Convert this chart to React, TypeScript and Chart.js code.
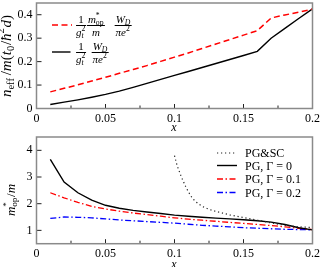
import React, { useEffect, useRef } from 'react';
import { Chart, registerables } from 'chart.js';

Chart.register(...registerables);

// ---------- data ----------
const xValues = [0.01, 0.02, 0.03, 0.04, 0.05, 0.06, 0.07, 0.08, 0.09, 0.1, 0.11, 0.12, 0.13, 0.14, 0.15, 0.16, 0.17, 0.18, 0.19, 0.2];
// top panel: n_eff / m (t0/hbar^2 d)
const nWithMass = [0.071, 0.086, 0.101, 0.117, 0.133, 0.150, 0.166, 0.183, 0.201, 0.219, 0.237, 0.256, 0.275, 0.294, 0.313, 0.332, 0.386, 0.399, 0.411, 0.424];
const nWithoutMass = [0.017, 0.027, 0.037, 0.048, 0.060, 0.074, 0.090, 0.107, 0.124, 0.141, 0.158, 0.175, 0.192, 0.209, 0.226, 0.244, 0.300, 0.342, 0.384, 0.425];
// bottom panel: m*_op / m
const pgGamma0 = [3.66, 2.81, 2.41, 2.13, 1.94, 1.83, 1.75, 1.69, 1.63, 1.57, 1.53, 1.49, 1.46, 1.43, 1.40, 1.36, 1.31, 1.22, 1.10, 1.02];
const pgGamma01 = [2.41, 2.22, 2.05, 1.90, 1.80, 1.72, 1.65, 1.59, 1.53, 1.47, 1.42, 1.38, 1.34, 1.30, 1.26, 1.22, 1.18, 1.13, 1.08, 1.03];
const pgGamma02 = [1.45, 1.50, 1.49, 1.47, 1.43, 1.39, 1.36, 1.33, 1.30, 1.27, 1.23, 1.19, 1.16, 1.13, 1.10, 1.08, 1.06, 1.04, 1.03, 1.02];
const pgscX = [0.1, 0.102, 0.105, 0.108, 0.11, 0.113, 0.116, 0.12, 0.125, 0.13, 0.14, 0.15, 0.16, 0.17, 0.18, 0.19, 0.2];
const pgscY = [3.80, 3.41, 3.00, 2.65, 2.45, 2.20, 2.05, 1.90, 1.79, 1.71, 1.58, 1.48, 1.38, 1.28, 1.19, 1.13, 1.11];

// ---------- ticks ----------
const xTicks = [0, 0.05, 0.1, 0.15, 0.2];
const xMinorTicks = [0.025, 0.075, 0.125, 0.175];
const nTicks = [0, 0.1, 0.2, 0.3, 0.4];
const mTicks = [1, 2, 3, 4];
const legendLabels = ['PG&SC', 'PG, Γ = 0', 'PG, Γ = 0.1', 'PG, Γ = 0.2'];

const FONT = '"Liberation Serif", "Times New Roman", serif';
const RED = '#ff0000';
const BLUE = '#0000ff';
const DASH = [6, 3.5];
const DASHDOT = [6, 2.5, 1.5, 2.5];
const DOT = [1.2, 2.8];

const fmt = (v: number) => String(parseFloat(Number(v).toFixed(3)));

type Sample = { dx1: number; dx2: number; y: number; color: string; dash: number[]; width: number };

function framePlugin(yTicks: number[], samples: Sample[]) {
  return {
    id: 'frame',
    afterDraw(chart: any) {
      const { ctx, chartArea: a, scales } = chart;
      const xs = scales.x;
      const ys = scales.y;
      ctx.save();
      ctx.strokeStyle = '#222';
      ctx.lineWidth = 1;
      ctx.setLineDash([]);
      xTicks.forEach((v) => {
        const p = xs.getPixelForValue(v);
        ctx.beginPath();
        ctx.moveTo(p, a.bottom);
        ctx.lineTo(p, a.bottom - 4.5);
        ctx.stroke();
      });
      xMinorTicks.forEach((v) => {
        const p = xs.getPixelForValue(v);
        ctx.beginPath();
        ctx.moveTo(p, a.bottom);
        ctx.lineTo(p, a.bottom - 3);
        ctx.stroke();
      });
      yTicks.forEach((v) => {
        const p = ys.getPixelForValue(v);
        ctx.beginPath();
        ctx.moveTo(a.left, p);
        ctx.lineTo(a.left + 5, p);
        ctx.stroke();
      });
      ctx.strokeStyle = '#8a8a8a';
      ctx.lineWidth = 1.5;
      ctx.strokeRect(a.left, a.top, a.width, a.height);
      samples.forEach((s) => {
        ctx.strokeStyle = s.color;
        ctx.lineWidth = s.width;
        ctx.setLineDash(s.dash);
        ctx.beginPath();
        ctx.moveTo(a.left + s.dx1, a.top + s.y);
        ctx.lineTo(a.left + s.dx2, a.top + s.y);
        ctx.stroke();
      });
      ctx.restore();
    },
  };
}

function series(xs: number[], ys: number[], color: string, dash: number[], width: number) {
  return {
    data: xs.map((x, i) => ({ x, y: ys[i] })),
    borderColor: color,
    borderWidth: width,
    borderDash: dash,
    pointRadius: 0,
    fill: false,
    tension: 0,
  };
}

function makeConfig(datasets: any[], yMin: number, yMax: number, yTicks: number[], xAxisH: number, samples: Sample[]) {
  const tickFont = { family: FONT, size: 12 };
  return {
    type: 'line',
    data: { datasets },
    options: {
      animation: false,
      responsive: false,
      events: [],
      layout: { padding: { top: 3, right: 7.5, left: 0, bottom: 0 } },
      plugins: { legend: { display: false }, tooltip: { enabled: false } },
      scales: {
        x: {
          type: 'linear',
          min: 0,
          max: 0.2,
          grid: { display: false, drawTicks: false },
          border: { display: false },
          ticks: { padding: 3, maxRotation: 0, autoSkip: false, font: tickFont, color: '#000', callback: (v: number) => fmt(v) },
          afterBuildTicks: (s: any) => {
            s.ticks = xTicks.map((v) => ({ value: v }));
          },
          afterFit: (s: any) => {
            s.height = xAxisH;
            s.paddingLeft = 0;
            s.paddingRight = 0;
          },
        },
        y: {
          type: 'linear',
          min: yMin,
          max: yMax,
          grid: { display: false, drawTicks: false },
          border: { display: false },
          ticks: { padding: 4, autoSkip: false, font: tickFont, color: '#000', callback: (v: number) => fmt(v) },
          afterBuildTicks: (s: any) => {
            s.ticks = yTicks.map((v) => ({ value: v }));
          },
          afterFit: (s: any) => {
            s.width = 36.5;
            s.paddingTop = 0;
            s.paddingBottom = 0;
          },
        },
      },
    },
    plugins: [framePlugin(yTicks, samples)],
  };
}

// script helper (absolute so it never alters line boxes)
function Script({ sup, sub, fs, w }: { sup?: any; sub?: any; fs: number; w: number }) {
  const small = fs * 0.7;
  return (
    <span style={{ display: 'inline-block', position: 'relative', width: w, height: 0 }}>
      {sup !== undefined && (
        <span style={{ position: 'absolute', left: 0, bottom: fs * 0.28, fontSize: small, lineHeight: 1, whiteSpace: 'nowrap' }}>{sup}</span>
      )}
      {sub !== undefined && (
        <span style={{ position: 'absolute', left: 0, top: -fs * 0.36, fontSize: small, lineHeight: 1, whiteSpace: 'nowrap' }}>{sub}</span>
      )}
    </span>
  );
}

function Frac({ num, den, cx, barY, fs }: { num: any; den: any; cx: number; barY: number; fs: number }) {
  const H = Math.round(fs * 1.05);
  return (
    <div
      style={{
        position: 'absolute',
        left: cx,
        top: barY - H,
        transform: 'translateX(-50%)',
        display: 'flex',
        flexDirection: 'column',
        alignItems: 'center',
        fontFamily: FONT,
        fontSize: fs,
        color: '#000',
      }}
    >
      <div style={{ height: H, lineHeight: H + 'px', whiteSpace: 'nowrap', padding: '0 1px' }}>{num}</div>
      <div style={{ alignSelf: 'stretch', height: 0, borderTop: '0.8px solid #000' }} />
      <div style={{ height: H, lineHeight: H + 'px', whiteSpace: 'nowrap' }}>{den}</div>
    </div>
  );
}

function ChartCanvas({ config, top, height }: { config: any; top: number; height: number }) {
  const ref = useRef<HTMLCanvasElement | null>(null);
  useEffect(() => {
    if (!ref.current) return;
    const chart = new Chart(ref.current, config);
    return () => chart.destroy();
  }, [config]);
  return <canvas ref={ref} width={320} height={height} style={{ position: 'absolute', left: 0, top, width: 320, height }} />;
}

const topConfig = makeConfig(
  [series(xValues, nWithMass, RED, DASH, 1.5), series(xValues, nWithoutMass, '#000', [], 1.4)],
  0,
  0.45,
  nTicks,
  25.5,
  [
    { dx1: 15.5, dx2: 35.5, y: 22, color: RED, dash: DASH, width: 1.5 },
    { dx1: 15.5, dx2: 34, y: 49, color: '#000', dash: [], width: 1.4 },
  ]
);

const bottomConfig = makeConfig(
  [
    series(pgscX, pgscY, '#222', DOT, 1.2),
    series(xValues, pgGamma0, '#000', [], 1.4),
    series(xValues, pgGamma01, RED, DASHDOT, 1.3),
    series(xValues, pgGamma02, BLUE, DASHDOT, 1.3),
  ],
  0.5,
  4.5,
  mTicks,
  23.3,
  [
    { dx1: 180.5, dx2: 200.5, y: 16, color: '#222', dash: DOT, width: 1.2 },
    { dx1: 180.5, dx2: 200.5, y: 28.5, color: '#000', dash: [], width: 1.4 },
    { dx1: 180.5, dx2: 200.5, y: 42, color: RED, dash: DASHDOT, width: 1.3 },
    { dx1: 180.5, dx2: 200.5, y: 55.5, color: BLUE, dash: DASHDOT, width: 1.3 },
  ]
);

const textBase: React.CSSProperties = { position: 'absolute', fontFamily: FONT, color: '#000', whiteSpace: 'nowrap', lineHeight: 1 };

export default function App() {
  const fsL = 11;
  const fsY = 15;
  return (
    <div style={{ position: 'fixed', left: 0, top: 0, width: 320, height: 267, background: '#fff', overflow: 'hidden' }}>
      <ChartCanvas config={topConfig} top={0} height={134} />
      <ChartCanvas config={bottomConfig} top={134} height={133} />

      {/* top y label */}
      <div style={{ ...textBase, fontSize: fsY, left: 6, top: 56, transform: 'translate(-50%, -50%) rotate(-90deg)' }}>
        <i>n</i>
        <Script fs={fsY} w={fsY * 0.95} sub="eff" />/<i>m</i>(<i>t</i>
        <Script fs={fsY} w={fsY * 0.4} sub="0" />/<i>ħ</i>
        <Script fs={fsY} w={fsY * 0.4} sup="2" />
        <i>d</i>)
      </div>

      {/* bottom y label */}
      <div style={{ ...textBase, fontSize: 13, left: 10, top: 200, transform: 'translate(-50%, -50%) rotate(-90deg)' }}>
        <i>m</i>
        <Script fs={13} w={13 * 0.75} sup="*" sub="op" />/<i>m</i>
      </div>

      {/* x labels */}
      <div style={{ ...textBase, fontSize: 12, left: 174, top: 127, transform: 'translate(-50%, -50%)' }}>
        <i>x</i>
      </div>
      <div style={{ ...textBase, fontSize: 12, left: 174, top: 264, transform: 'translate(-50%, -50%)' }}>
        <i>x</i>
      </div>

      {/* top legend */}
      <Frac
        cx={81}
        barY={25}
        fs={fsL}
        num="1"
        den={
          <>
            <i>g</i>
            <Script fs={fsL} w={fsL * 0.4} sup="2" sub={<i>t</i>} />
          </>
        }
      />
      <Frac
        cx={96}
        barY={25}
        fs={fsL}
        num={
          <>
            <i>m</i>
            <Script fs={fsL} w={fsL * 0.75} sup="*" sub="op" />
          </>
        }
        den={<i>m</i>}
      />
      <Frac
        cx={123}
        barY={25}
        fs={fsL}
        num={
          <>
            <i>W</i>
            <Script fs={fsL} w={fsL * 0.5} sub={<i>D</i>} />
          </>
        }
        den={
          <>
            <i>πe</i>
            <Script fs={fsL} w={fsL * 0.4} sup="2" />
          </>
        }
      />
      <Frac
        cx={81}
        barY={52}
        fs={fsL}
        num="1"
        den={
          <>
            <i>g</i>
            <Script fs={fsL} w={fsL * 0.4} sup="2" sub={<i>t</i>} />
          </>
        }
      />
      <Frac
        cx={100}
        barY={52}
        fs={fsL}
        num={
          <>
            <i>W</i>
            <Script fs={fsL} w={fsL * 0.5} sub={<i>D</i>} />
          </>
        }
        den={
          <>
            <i>πe</i>
            <Script fs={fsL} w={fsL * 0.4} sup="2" />
          </>
        }
      />

      {/* bottom legend texts */}
      {legendLabels.map((t, i) => (
        <div key={t} style={{ ...textBase, fontSize: 12, left: 245, top: [153, 165.5, 179, 192.5][i], transform: 'translateY(-50%)' }}>
          {t}
        </div>
      ))}
    </div>
  );
}
